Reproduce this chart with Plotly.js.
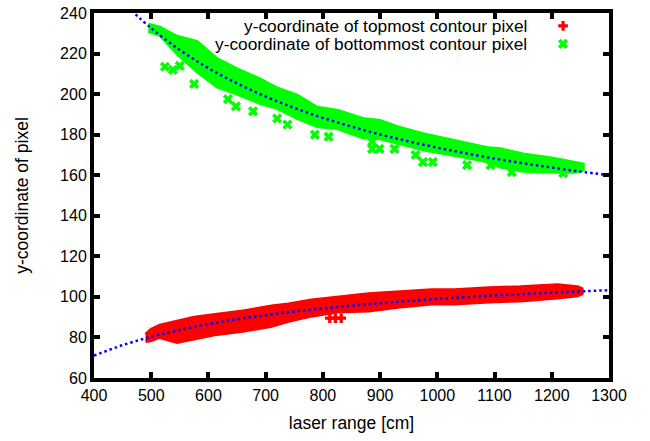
<!DOCTYPE html>
<html>
<head>
<meta charset="utf-8">
<script src="https://cdn.plot.ly/plotly-3.0.1.min.js"></script>
<style>html,body{margin:0;padding:0;background:#fff;}#chart{width:650px;height:441px;}</style>
</head>
<body>
<div id="chart"></div>
<script>
// ---- data ----
// bottommost contour pixel (green): band envelope
const greenX      = [495, 515, 545, 580, 615, 650, 690, 720, 755, 790, 825, 870, 900, 935, 975, 1015, 1055, 1090, 1110, 1150, 1200, 1240, 1255];
const greenTop    = [234.5, 233, 228.5, 226, 217.5, 212.5, 207.5, 203, 199.5, 193.5, 192, 188, 187, 183.5, 180.5, 178, 175.5, 173.5, 173, 170.5, 168.5, 166.5, 165.5];
const greenBottom = [231, 229, 220, 211, 203.5, 200, 195.5, 193, 188, 184, 183, 178.5, 178, 175.5, 172.5, 170.5, 168.5, 166.5, 164, 162, 161.5, 161.5, 162.5];
// green isolated points
const greenOutX = [524, 538, 550, 575, 634, 648, 678, 720, 738, 786, 810, 886, 886, 899, 925, 962, 975, 992, 1052, 1093, 1130, 1220];
const greenOutY = [213.5, 212, 214, 205, 197.5, 194, 191.5, 188, 185, 180, 179, 176.5, 173, 173, 173, 170, 166.5, 166.5, 165, 165, 161.5, 161];

// topmost contour pixel (red): band envelope
const redX      = [490, 500, 515, 545, 575, 615, 660, 710, 740, 780, 825, 880, 935, 990, 1030, 1090, 1145, 1210, 1245, 1253];
const redTop    = [81.5, 84, 86, 88, 90, 91.5, 93, 95.5, 96.5, 98.5, 100, 101.5, 102.5, 103.5, 103.5, 104.5, 105, 106, 105, 104];
const redBottom = [78, 78.5, 80, 77.5, 79, 81.5, 83, 85.5, 88, 90.5, 92.5, 93, 95, 96.5, 96.5, 97.5, 98, 99.5, 100.5, 101.5];
// red isolated points
const redOutX = [812, 822, 832];
const redOutY = [89.5, 89.5, 89.5];

// fitted curves (blue dotted)
const fitGreenX = [465, 500, 550, 600, 650, 700, 750, 800, 850, 900, 950, 1000, 1050, 1100, 1150, 1200, 1250, 1300];
const fitGreenY = [241.3, 232.5, 221.8, 212.8, 205.3, 198.8, 193.2, 188.3, 184.0, 180.1, 176.7, 173.6, 170.8, 168.2, 165.9, 163.8, 161.8, 160.0];
const fitRedX = [400, 450, 500, 550, 600, 650, 700, 750, 800, 850, 900, 950, 1000, 1050, 1100, 1150, 1200, 1250, 1300];
const fitRedY = [71.0, 76.2, 80.3, 83.7, 86.6, 89.0, 91.0, 92.8, 94.3, 95.7, 96.9, 98.0, 99.0, 99.9, 100.7, 101.4, 102.1, 102.7, 103.3];

const legendLabels = ['y-coordinate of topmost contour pixel', 'y-coordinate of bottommost contour pixel'];
const xTicks = [400, 500, 600, 700, 800, 900, 1000, 1100, 1200, 1300];
const yTicks = [60, 80, 100, 120, 140, 160, 180, 200, 220, 240];

const RED = '#ff0000', GREEN = '#00ff00', BLUE = '#0000ff';
const FONT = 'Liberation Sans, Arial, sans-serif';

function band(xs, top, bot, color) {
  return {
    x: xs.concat(xs.slice().reverse()),
    y: top.concat(bot.slice().reverse()),
    mode: 'lines', fill: 'toself', fillcolor: color,
    line: {color: color, width: 3}, showlegend: false, hoverinfo: 'skip'
  };
}

const traces = [
  band(redX, redTop, redBottom, RED),
  {x: redOutX, y: redOutY, mode: 'markers', name: ' ', legend: 'legend',
   marker: {symbol: 'cross', size: 8, color: RED}},
  band(greenX, greenTop, greenBottom, GREEN),
  {x: greenOutX, y: greenOutY, mode: 'markers', name: ' ', legend: 'legend2',
   marker: {symbol: 'x', size: 9, color: GREEN}},
  {x: fitGreenX, y: fitGreenY, mode: 'lines', showlegend: false,
   line: {color: BLUE, width: 2.5, dash: '2.5px,3px', shape: 'spline'}},
  {x: fitRedX, y: fitRedY, mode: 'lines', showlegend: false,
   line: {color: BLUE, width: 2.5, dash: '2.5px,3px', shape: 'spline'}}
];

const axisCommon = {
  showline: true, linewidth: 4, linecolor: '#000', mirror: 'ticks',
  ticks: 'inside', ticklen: 6, tickwidth: 4, tickcolor: '#000',
  showgrid: false, zeroline: false,
  tickfont: {family: FONT, size: 16, color: '#000'}
};

const legendCommon = {xanchor: 'left', yanchor: 'middle', bgcolor: 'rgba(0,0,0,0)',
                      font: {family: FONT, size: 12}, tracegroupgap: 0};

const layout = {
  width: 650, height: 441,
  margin: {l: 94, r: 41, t: 11, b: 63},
  paper_bgcolor: '#fff', plot_bgcolor: '#fff',
  showlegend: true,
  legend: Object.assign({}, legendCommon, {x: 0.872, y: 0.9646}),
  legend2: Object.assign({}, legendCommon, {x: 0.872, y: 0.9155}),
  xaxis: Object.assign({}, axisCommon, {
    range: [400, 1300], tickvals: xTicks, ticktext: xTicks.map(String),
    title: {text: 'laser range [cm]', font: {family: FONT, size: 17.5, color: '#000'}, standoff: 15}
  }),
  yaxis: Object.assign({}, axisCommon, {
    range: [60, 240], tickvals: yTicks, ticktext: yTicks.map(String),
    title: {text: 'y-coordinate of pixel', font: {family: FONT, size: 17.5, color: '#000'}, standoff: 28}
  }),
  annotations: legendLabels.map((t, i) => ({
    text: t, xref: 'paper', yref: 'paper', x: 0.845, y: 0.965 - i * 0.049,
    xanchor: 'right', yanchor: 'middle', showarrow: false,
    font: {family: FONT, size: 17.3, color: '#000'}
  }))
};

Plotly.newPlot('chart', traces, layout, {displayModeBar: false, staticPlot: true});
</script>
</body>
</html>
